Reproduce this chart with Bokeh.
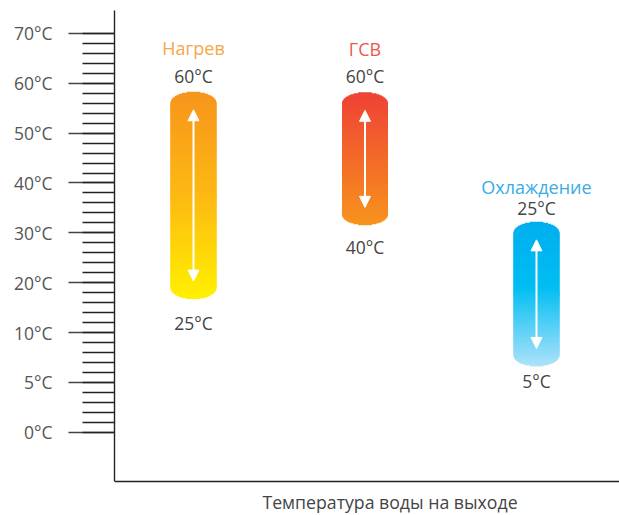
import numpy as np
from bokeh.plotting import figure
from bokeh.models import Range1d, FixedTicker, Arrow, NormalHead
from bokeh.core.properties import value
from bokeh.embed import file_html
from bokeh.resources import INLINE

# ---------------- data ----------------
axis_ticks_c = [0, 5, 10, 20, 30, 40, 50, 60, 70]
axis_tick_labels = ["0°C", "5°C", "10°C", "20°C", "30°C", "40°C", "50°C", "60°C", "70°C"]
modes = ["Нагрев", "ГСВ", "Охлаждение"]
range_high_labels = ["60°C", "60°C", "25°C"]
range_low_labels = ["25°C", "40°C", "5°C"]
bar_top_c = [58.3, 58.2, 32.2]      # capsule top, read on the axis scale (°C)
bar_bottom_c = [16.7, 31.5, 6.6]    # capsule bottom, read on the axis scale (°C)
x_title = "Температура воды на выходе"

# ---------------- styles / layout ----------------
W, H = 619, 515
BL, BT = 114, 10
FONT_NAME = "Open Sans"
FONT = value(FONT_NAME)
mode_colors = ["#F9A64A", "#F05549", "#3AACE3"]
gradients = [
    [(0.0, "#F7941D"), (0.5, "#FDB913"), (1.0, "#FFF100")],
    [(0.0, "#EF4136"), (1.0, "#F7941D")],
    [(0.0, "#00AEEF"), (0.45, "#00BEF2"), (1.0, "#AEE2FA")],
]
mode_off = [-44, -43, -35]
top_off = [-16, -16, -14]
bot_off = [24, 22, 15]
x_pos = [1, 2, 3]
px_y = 49.84                       # pixels per axis step
y1 = 8.461                         # top of plot area (axis units)
y_axis_pos = -0.989                # where the horizontal axis line sits
y0 = y1 - (H - BT) / px_y          # plot area runs to the bottom of the canvas
x0, x1 = 0.5394, 3.484
px_x = (W - BL) / (x1 - x0)
half_w_px, cap_px = 23.0, 11.0
title_x = x0 + (389.5 - BL) / px_x


def to_axis(t):
    return float(np.interp(t, axis_ticks_c, np.arange(len(axis_ticks_c))))


def hex2rgb(h):
    h = h.lstrip("#")
    return np.array([int(h[i:i + 2], 16) for i in (0, 2, 4)], dtype=float)


def grad(stops, t):
    pos = [s[0] for s in stops]
    cols = np.array([hex2rgb(s[1]) for s in stops])
    rgb = [np.interp(t, pos, cols[:, c]) for c in range(3)]
    return "#%02x%02x%02x" % tuple(int(round(v)) for v in rgb)


def half_width(d, h):
    hw = half_w_px
    for dd in (d, h - d):
        if dd < cap_px:
            hw = min(hw, half_w_px * np.sqrt(max(0.0, 1 - ((cap_px - dd) / cap_px) ** 2)))
    return hw


p = figure(width=W, height=H, x_range=Range1d(x0, x1), y_range=Range1d(y0, y1),
           output_backend="svg", toolbar_location=None, title=None,
           min_border_left=BL, min_border_top=BT, min_border_bottom=0, min_border_right=0)
p.grid.visible = False
p.outline_line_color = None
p.background_fill_color = "white"

# y axis (equal spacing between labelled temperatures)
yax = p.yaxis[0]
yax.ticker = FixedTicker(ticks=list(range(len(axis_ticks_c))),
                         minor_ticks=[i / 5 for i in range(5 * (len(axis_ticks_c) - 1) + 1)])
yax.major_label_overrides = {i: lab for i, lab in enumerate(axis_tick_labels)}
yax.bounds = (y_axis_pos, y1)
yax.major_tick_in = 0
yax.major_tick_out = 46
yax.minor_tick_in = 0
yax.minor_tick_out = 32
yax.major_tick_line_color = "#444444"
yax.minor_tick_line_color = "#222222"
yax.major_tick_line_width = 1.4
yax.minor_tick_line_width = 1.4
yax.axis_line_color = "#222222"
yax.axis_line_width = 1.4
yax.major_label_standoff = 16
yax.major_label_text_font = FONT_NAME
yax.major_label_text_font_size = "17.5px"
yax.major_label_text_color = "#555555"

xax = p.xaxis[0]
xax.fixed_location = y_axis_pos
xax.ticker = FixedTicker(ticks=[])
xax.major_tick_line_color = None
xax.minor_tick_line_color = None
xax.major_label_text_font_size = "0px"
xax.axis_line_color = "#222222"
xax.axis_line_width = 1.4

# capsules as gradient strips (overlaps always point toward the middle)
OV = 2.5
for i in range(len(modes)):
    top = to_axis(bar_top_c[i])
    bot = to_axis(bar_bottom_c[i])
    h_px = (top - bot) * px_y
    n = int(np.ceil(h_px))
    step = (top - bot) / n
    upper, lower = [], []
    for k in range(n):
        d = (k + 0.5) * step * px_y
        hw = half_width(d, h_px) / px_x
        col = grad(gradients[i], (k + 0.5) / n)
        if d < h_px / 2:
            yt = top - k * step
            upper.append((x_pos[i] - hw, x_pos[i] + hw, yt, yt - OV * step, col))
        else:
            yb = top - (k + 1) * step
            lower.append((x_pos[i] - hw, x_pos[i] + hw, yb + OV * step, yb, col))
    strips = upper + lower[::-1]
    p.quad(left=[s[0] for s in strips], right=[s[1] for s in strips],
           top=[s[2] for s in strips], bottom=[s[3] for s in strips],
           fill_color=[s[4] for s in strips], line_color=None)

    inset = 18 / px_y
    p.add_layout(Arrow(x_start=x_pos[i], y_start=top - inset, x_end=x_pos[i], y_end=bot + inset,
                       line_color="white", line_width=2,
                       start=NormalHead(size=11, fill_color="white", line_color="white", line_width=1),
                       end=NormalHead(size=11, fill_color="white", line_color="white", line_width=1)))

    p.text(x=[x_pos[i]], y=[top], text=[modes[i]], y_offset=mode_off[i],
           text_align="center", text_baseline="middle", text_font=FONT,
           text_font_size="18px", text_color=mode_colors[i])
    p.text(x=[x_pos[i]], y=[top], text=[range_high_labels[i]], y_offset=top_off[i],
           text_align="center", text_baseline="middle", text_font=FONT,
           text_font_size="17.5px", text_color="#444444")
    p.text(x=[x_pos[i]], y=[bot], text=[range_low_labels[i]], y_offset=bot_off[i],
           text_align="center", text_baseline="middle", text_font=FONT,
           text_font_size="17.5px", text_color="#444444")

p.text(x=[title_x], y=[y_axis_pos], text=[x_title], y_offset=21,
       text_align="center", text_baseline="middle", text_font=FONT,
       text_font_size="17.7px", text_color="#444444")

open("out.html", "w").write(file_html(p, INLINE))
